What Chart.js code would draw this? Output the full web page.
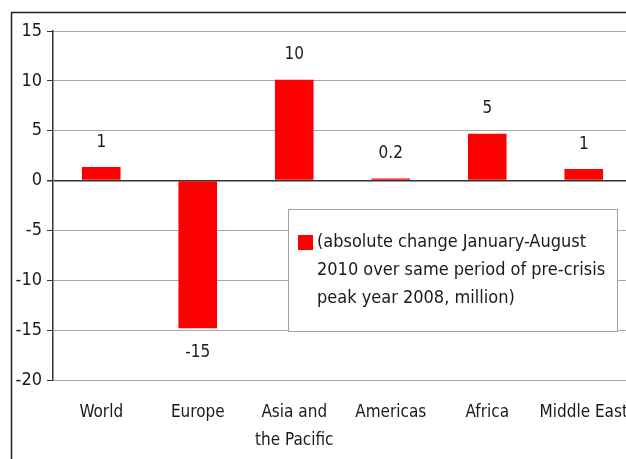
<!DOCTYPE html>
<html>
<head>
<meta charset="utf-8">
<script src="https://cdn.jsdelivr.net/npm/chart.js@4/dist/chart.umd.min.js"></script>
<style>
  html, body { margin:0; padding:0; background:#fff; overflow:hidden; }
</style>
</head>
<body>
<canvas id="chart" width="640" height="470"></canvas>
<script>
const regions = ['World', 'Europe', ['Asia and', 'the Pacific'], 'Americas', 'Africa', 'Middle East'];
const changes = [1.35, -14.8, 10.1, 0.2, 4.7, 1.15];
const valueLabels = ['1', '-15', '10', '0.2', '5', '1'];
const legendLines = ['(absolute change January-August', '2010 over same period of pre-crisis', 'peak year 2008, million)'];
const yTicks = [15, 10, 5, 0, -5, -10, -15, -20];

const FONT = "'Liberation Sans Narrow', 'DejaVu Sans Condensed', 'Arial Narrow', sans-serif";

// frame around the whole figure (right and bottom edges fall outside the view)
const framePlugin = {
    id: 'frame',
    afterDraw(chart) {
        let c = chart.ctx;
        c.save();
        c.strokeStyle = '#222';
        c.lineWidth = 1.5;
        c.strokeRect(11.5, 12.5, chart.width + 40, chart.height + 40);
        c.restore();
    }
};

// value labels above / below each bar
const valuePlugin = {
    id: 'values',
    afterDatasetsDraw(chart) {
        let c = chart.ctx;
        let meta = chart.getDatasetMeta(0);
        c.save();
        c.font = '17px ' + FONT;
        c.fillStyle = '#1a1a1a';
        c.textAlign = 'center';
        c.textBaseline = 'middle';
        meta.data.forEach((bar, i) => {
            let v = changes[i];
            let y = v >= 0 ? bar.y - 25 : bar.y + 24;
            c.fillText(valueLabels[i], bar.x, y);
        });
        c.restore();
    }
};

// boxed legend sitting inside the plot
const legendBox = {
    id: 'legendBox',
    afterDraw(chart) {
        let c = chart.ctx;
        let x = 288, y = 209, w = 329, h = 122;
        c.save();
        c.fillStyle = '#fff';
        c.fillRect(x, y, w, h);
        c.strokeStyle = '#a0a0a0';
        c.lineWidth = 1;
        c.strokeRect(x + 0.5, y + 0.5, w, h);
        c.fillStyle = '#ff0000';
        c.fillRect(298, 235, 15, 15);
        c.font = '18px ' + FONT;
        c.fillStyle = '#1a1a1a';
        c.textBaseline = 'middle';
        legendLines.forEach((t, i) => c.fillText(t, 317, 242 + i * 28));
        c.restore();
    }
};

let ctx = document.getElementById('chart').getContext('2d');
let chart = new Chart(ctx, {
    type: 'bar',
    data: {
        labels: regions,
        datasets: [{
            label: legendLines.join(' '),
            data: changes,
            backgroundColor: '#ff0000',
            borderWidth: 0,
            categoryPercentage: 1,
            barPercentage: 0.4
        }]
    },
    options: {
        responsive: false,
        animation: false,
        layout: { padding: { left: 0, top: 31, right: 8, bottom: 0 } },
        plugins: { legend: { display: false }, tooltip: { enabled: false } },
        scales: {
            x: {
                grid: { display: false, drawTicks: true, tickLength: 19 },
                border: { display: false },
                ticks: {
                    color: '#1a1a1a',
                    font: { family: FONT, size: 17, lineHeight: 1.65 },
                    padding: 0,
                    maxRotation: 0,
                    autoSkip: false
                },
                afterFit: s => { s.height = 90; }
            },
            y: {
                min: -20,
                max: 15,
                afterBuildTicks: s => { s.ticks = yTicks.map(v => ({ value: v })); },
                grid: {
                    color: ctx => ctx.tick && ctx.tick.value === 0 ? '#333' : '#a6a6a6',
                    lineWidth: ctx => ctx.tick && ctx.tick.value === 0 ? 1.5 : 1,
                    tickColor: '#333',
                    tickLength: 6
                },
                border: { color: '#333', width: 1.5 },
                ticks: {
                    color: '#1a1a1a',
                    font: { family: FONT, size: 18 },
                    padding: 5
                },
                afterFit: s => { s.width = 53; }
            }
        }
    },
    plugins: [valuePlugin, legendBox, framePlugin]
});
</script>
</body>
</html>
